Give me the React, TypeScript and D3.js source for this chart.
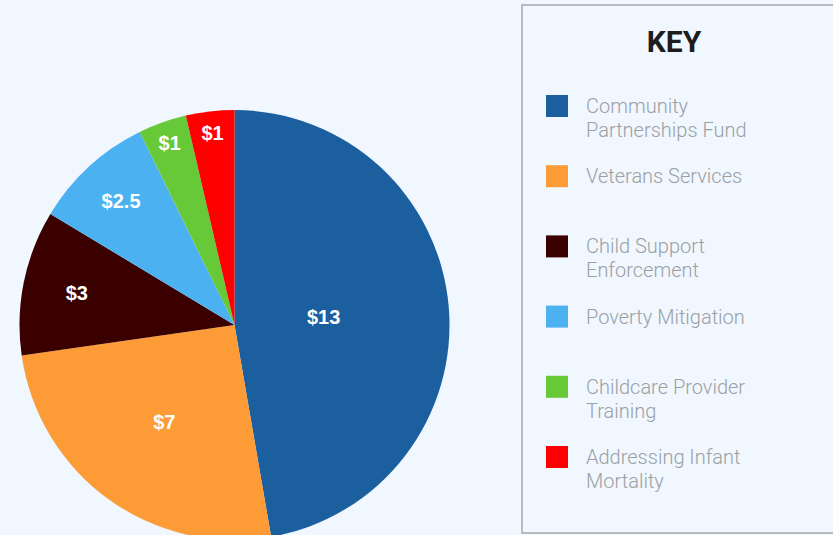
import { useRef, useEffect } from "react";
import * as d3 from "d3";

const categories = [
  ["Community", "Partnerships Fund"],
  ["Veterans Services"],
  ["Child Support", "Enforcement"],
  ["Poverty Mitigation"],
  ["Childcare Provider", "Training"],
  ["Addressing Infant", "Mortality"],
];
const amounts = [13, 7, 3, 2.5, 1, 1];
const sliceLabels = ["$13", "$7", "$3", "$2.5", "$1", "$1"];
const colors = ["#1b5f9f", "#fd9b37", "#3a0000", "#4bb1f1", "#67c938", "#ff0000"];

const WIDTH = 833;
const HEIGHT = 535;

export default function App() {
  const svgRef = useRef<SVGSVGElement>(null);

  useEffect(() => {
    const svg = d3.select(svgRef.current);
    svg.selectAll("*").remove();

    svg.append("rect")
      .attr("width", WIDTH)
      .attr("height", HEIGHT)
      .attr("fill", "#f0f7fe");

    const cx = 234.5;
    const cy = 325;
    const R = 215;

    const pie = d3.pie<number>().sort(null).value((d) => d);
    const arcs = pie(amounts);
    const arc = d3.arc<d3.PieArcDatum<number>>().innerRadius(0).outerRadius(R);

    const g = svg.append("g").attr("transform", `translate(${cx},${cy})`);

    g.selectAll("path.slice")
      .data(arcs)
      .join("path")
      .attr("class", "slice")
      .attr("d", arc)
      .attr("fill", (d, i) => colors[i]);

    // big slices: label at the sector centroid, thin ones: centre of the inscribed circle
    const labelRadius = (a: d3.PieArcDatum<number>) => {
      const half = (a.endAngle - a.startAngle) / 2;
      if (half > Math.PI / 4) return (R * 2 * Math.sin(half)) / (3 * half) * 0.93;
      const s = Math.sin(half);
      return R * (1 - s / (1 + s));
    };

    g.selectAll("text.lbl")
      .data(arcs)
      .join("text")
      .attr("class", "lbl")
      .attr("x", (d) => Math.sin((d.startAngle + d.endAngle) / 2) * labelRadius(d))
      .attr("y", (d) => -Math.cos((d.startAngle + d.endAngle) / 2) * labelRadius(d))
      .attr("text-anchor", "middle")
      .attr("dominant-baseline", "central")
      .attr("fill", "#ffffff")
      .style("font-family", "'Liberation Sans', Arial, sans-serif")
      .style("font-weight", "bold")
      .style("font-size", "20px")
      .text((d, i) => sliceLabels[i]);

    // legend box
    svg.append("rect")
      .attr("x", 522)
      .attr("y", 5)
      .attr("width", 330)
      .attr("height", 528)
      .attr("fill", "none")
      .attr("stroke", "#a4a9ae")
      .attr("stroke-width", 1.5);

    svg.append("text")
      .attr("x", 674)
      .attr("y", 52)
      .attr("text-anchor", "middle")
      .attr("fill", "#1e1c1c")
      .style("font-family", "Roboto, sans-serif")
      .style("font-weight", "bold")
      .style("font-size", "30px")
      .text("KEY");

    const rowY = d3.scaleLinear().domain([0, categories.length - 1]).range([95, 446]);

    const items = svg.selectAll("g.item")
      .data(categories)
      .join("g")
      .attr("class", "item")
      .attr("transform", (d, i) => `translate(546,${rowY(i)})`);

    items.append("rect")
      .attr("width", 22)
      .attr("height", 22)
      .attr("fill", (d, i) => colors[i]);

    items.append("text")
      .attr("fill", "#9ba0a5")
      .style("font-family", "Roboto, sans-serif")
      .style("font-weight", 300)
      .style("font-size", "20px")
      .selectAll("tspan")
      .data((d) => d)
      .join("tspan")
      .attr("x", 40)
      .attr("y", (d, j) => 18 + j * 24)
      .text((d) => d);
  }, []);

  return (
    <svg
      ref={svgRef}
      width={WIDTH}
      height={HEIGHT}
      style={{ position: "absolute", left: 0, top: 0, display: "block" }}
    />
  );
}
